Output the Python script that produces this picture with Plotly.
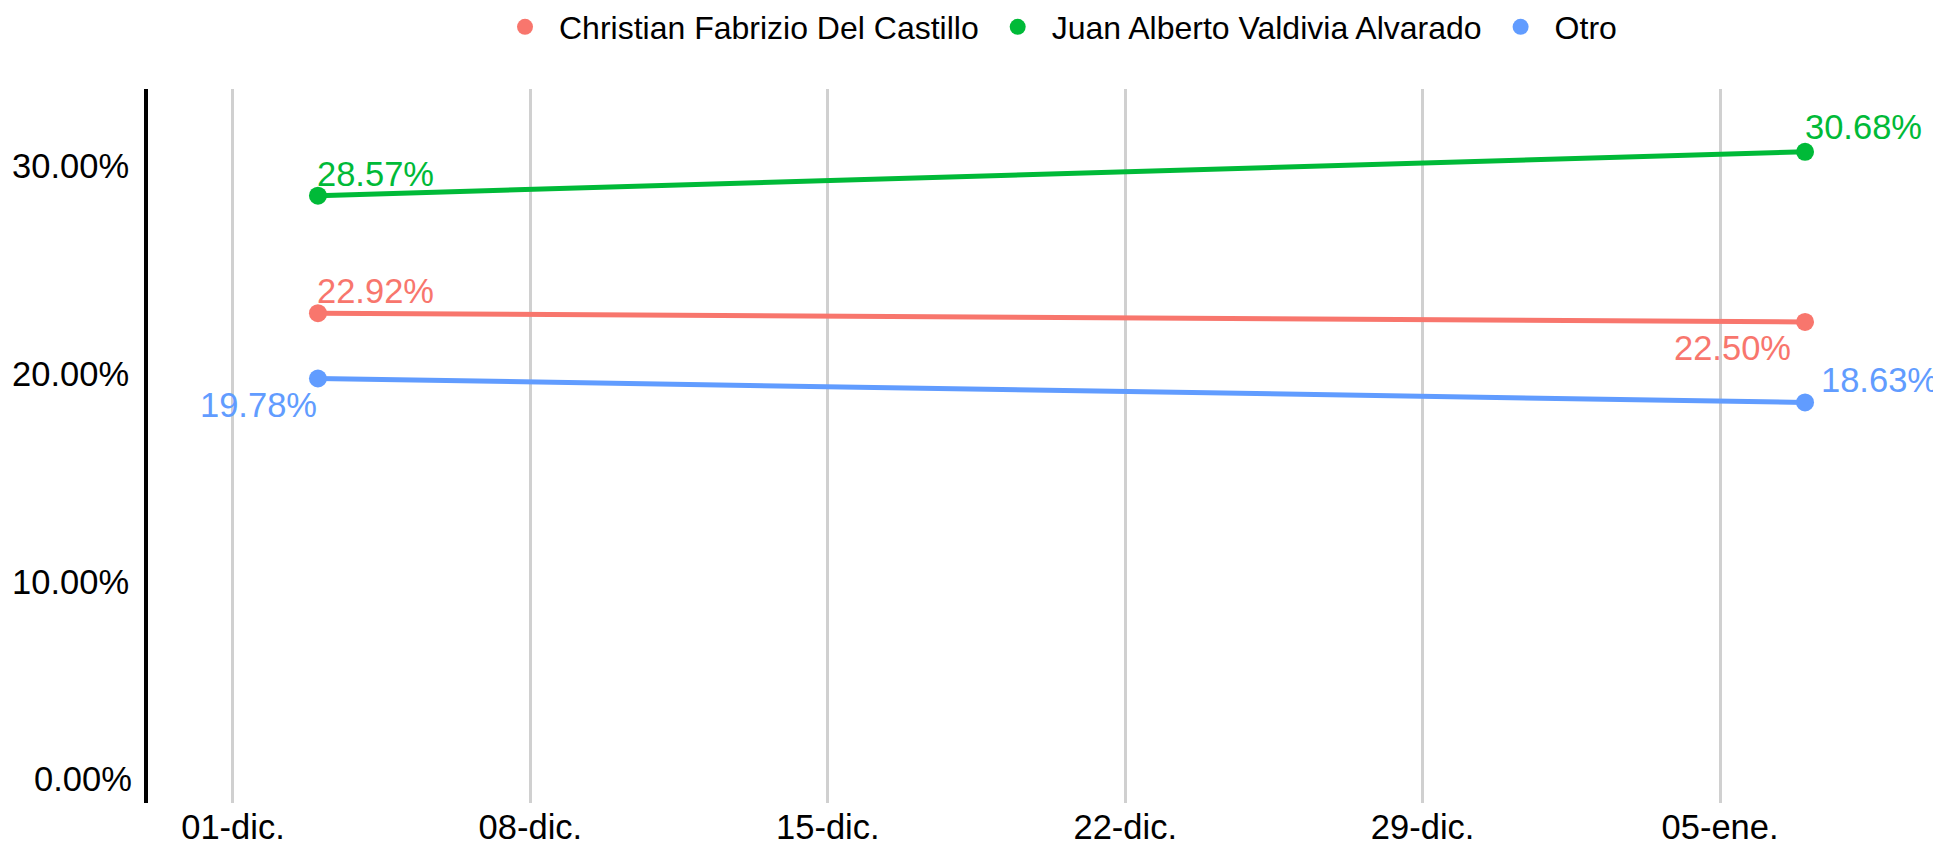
import plotly.graph_objects as go

# ---- data ----
dates = ["2024-12-03", "2025-01-07"]
series_names = ["Christian Fabrizio Del Castillo", "Juan Alberto Valdivia Alvarado", "Otro"]
castillo = [22.92, 22.50]
valdivia = [28.57, 30.68]
otro = [19.78, 18.63]
tick_dates = ["2024-12-01", "2024-12-08", "2024-12-15", "2024-12-22", "2024-12-29", "2025-01-05"]
tick_labels = ["01-dic.", "08-dic.", "15-dic.", "22-dic.", "29-dic.", "05-ene."]
y_ticks = [0, 10, 20, 30]

# ---- styles ----
colors = ["#F8766D", "#00BA38", "#619CFF"]
values = [castillo, valdivia, otro]
# label placement per point: (xanchor, yanchor, xshift, yshift)
label_style = [
    [("left", "bottom", -3, 1), ("right", "top", -12, -5)],
    [("left", "bottom", -3, 1), ("left", "bottom", -2, 4)],
    [("right", "top", 1, -5), ("left", "bottom", 14, 1)],
]

FONT = "Liberation Sans, Arial, sans-serif"
AX_SIZE = 34.5
fig = go.Figure()

for name, vals, col in zip(series_names, values, colors):
    fig.add_trace(go.Scatter(
        x=dates, y=vals, mode="lines+markers",
        line=dict(color=col, width=5),
        marker=dict(color=col, size=18),
        cliponaxis=False,
        showlegend=False, legendgroup=name, name=name,
    ))

annotations = []
for vals, col, styles in zip(values, colors, label_style):
    for d, v, (xa, ya, xs, ys) in zip(dates, vals, styles):
        annotations.append(dict(
            x=d, y=v, xref="x", yref="y", text=f"{v:.2f}%", showarrow=False,
            xanchor=xa, yanchor=ya, xshift=xs, yshift=ys,
            font=dict(color=col, size=AX_SIZE, family=FONT),
        ))

# bottom y tick label (drawn slightly raised, as in the reference)
y_ticktext = [f"{t:.2f}%" for t in y_ticks]
annotations.append(dict(
    x=0, xref="paper", y=y_ticks[0], yref="y", text=y_ticktext[0], showarrow=False,
    xanchor="right", yanchor="middle", xshift=-14, yshift=11,
    font=dict(color="black", size=AX_SIZE, family=FONT),
))
y_ticktext_axis = [""] + y_ticktext[1:]

for name, col in zip(series_names, colors):
    fig.add_trace(go.Scatter(
        x=[None], y=[None], mode="markers",
        marker=dict(color=col, size=19),
        name=name, legendgroup=name, showlegend=True,
    ))

fig.update_layout(
    width=1933, height=837,
    margin=dict(l=140, r=0, t=81, b=42, autoexpand=False),
    plot_bgcolor="white", paper_bgcolor="white",
    font=dict(family=FONT, size=32, color="black"),
    legend=dict(orientation="h", x=0.5067, xanchor="center", y=1.0868, yanchor="middle",
                font=dict(size=32), itemwidth=58, traceorder="normal"),
    showlegend=True,
    annotations=annotations,
)

fig.update_xaxes(
    type="date",
    range=["2024-11-29 00:00", "2025-01-10 04:48"],
    tickvals=tick_dates, ticktext=tick_labels,
    showgrid=True, gridcolor="#d0d0d0", gridwidth=3,
    showline=False, zeroline=False, ticks="", automargin=False,
    tickfont=dict(size=AX_SIZE, color="black"),
)
fig.update_yaxes(
    range=[-0.63, 33.7],
    tickvals=y_ticks, ticktext=y_ticktext_axis,
    showgrid=False, zeroline=False,
    showline=True, linecolor="black", linewidth=4,
    ticks="", ticklabelstandoff=8, automargin=False,
    tickfont=dict(size=AX_SIZE, color="black"),
)

fig.write_html("out.html")
